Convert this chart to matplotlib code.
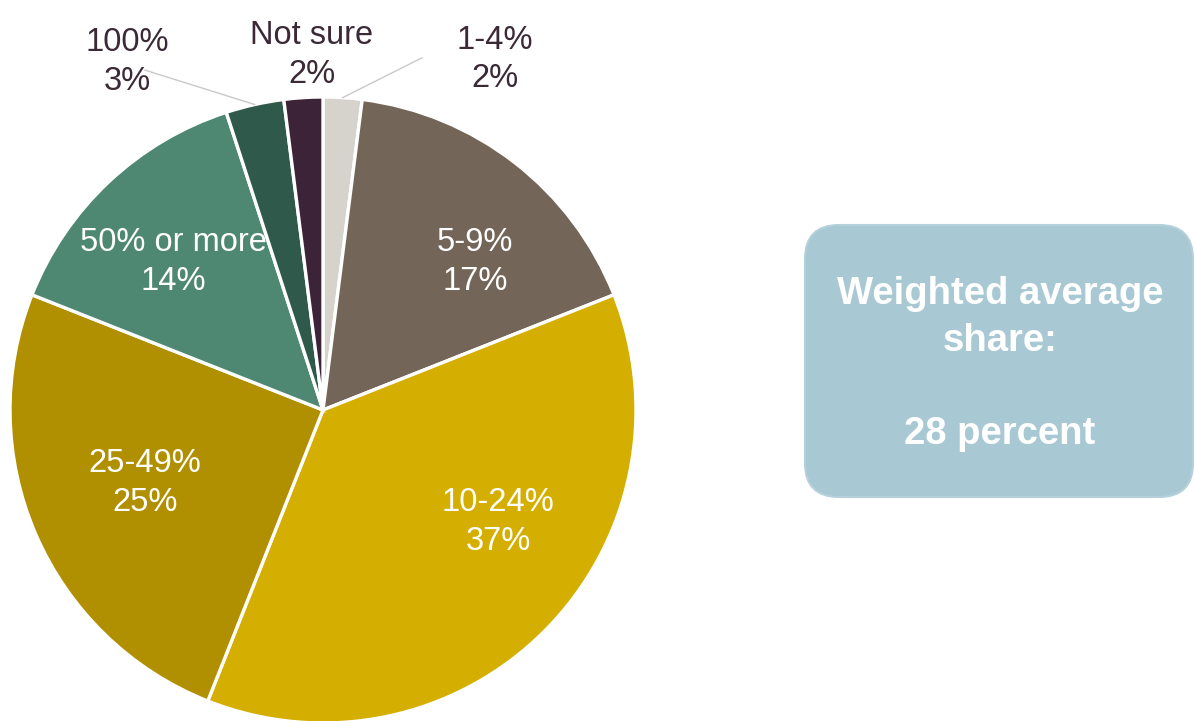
import numpy as np
import matplotlib.pyplot as plt
from matplotlib.patches import FancyBboxPatch

plt.rcParams['font.family'] = ['Liberation Sans', 'DejaVu Sans']

# Share of respondents by category
categories = ['1-4%', '5-9%', '10-24%', '25-49%', '50% or more', '100%', 'Not sure']
shares = [2, 17, 37, 25, 14, 3, 2]
colors = ['#d6d2cc', '#736659', '#d4ae00', '#b08f00', '#4f8872', '#2f5a4b', '#3d2337']
text_colors = ['#3b2a36', 'white', 'white', 'white', 'white', '#3b2a36', '#3b2a36']
summary_text = 'Weighted average\nshare:\n\n28 percent'

# label centres in pie units (radius = 1), and which labels get a leader line
label_pos = [(0.55, 1.12), (0.486, 0.473), (0.559, -0.358), (-0.569, -0.233),
             (-0.479, 0.473), (-0.626, 1.112), (-0.035, 1.134)]
leader_start = {0: (0.316, 1.125), 5: (-0.569, 1.086)}

W, H = 1194, 721
fig = plt.figure(figsize=(W / 100, H / 100), dpi=100)

# pie axes: centre (323, 410) px, radius 313 px
cx, cy, r = 323, 410, 313
ax = fig.add_axes([(cx - r) / W, (H - cy - r) / H, 2 * r / W, 2 * r / H])
wedges, _ = ax.pie(shares, colors=colors, startangle=90, counterclock=False,
                   wedgeprops=dict(edgecolor='white', linewidth=2.4),
                   radius=1.0)
for w in wedges:
    w.set_clip_on(False)
ax.set_xlim(-1, 1)
ax.set_ylim(-1, 1)
ax.set_aspect('equal')
ax.axis('off')

for i, (cat, val) in enumerate(zip(categories, shares)):
    x, y = label_pos[i]
    ax.text(x, y, f'{cat}\n{val}%', ha='center', va='center', fontsize=23.5,
            color=text_colors[i], linespacing=1.32, clip_on=False)
    if i in leader_start:
        w = wedges[i]
        mid = np.deg2rad((w.theta1 + w.theta2) / 2)
        ax.plot([leader_start[i][0], np.cos(mid)], [leader_start[i][1], np.sin(mid)],
                color='#c9c9c9', lw=1.0, clip_on=False)

# summary box on the right, drawn in pixel units
bx = fig.add_axes([0, 0, 1, 1], zorder=-1)
bx.set_xlim(0, W)
bx.set_ylim(H, 0)
bx.axis('off')
box = FancyBboxPatch((805 + 34, 225 + 34), 388 - 68, 272 - 68,
                     boxstyle='round,pad=34', facecolor='#a8c8d4',
                     edgecolor='#b4d0da', linewidth=1.5)
bx.add_patch(box)
bx.text(1000, 364, summary_text, ha='center', va='center', fontsize=27.5,
        fontweight='bold', color='white', linespacing=1.38)

fig.savefig('out.png', dpi=100)
